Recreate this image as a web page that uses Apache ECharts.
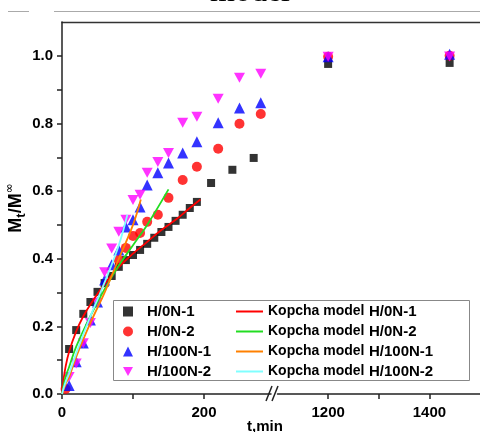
<!DOCTYPE html>
<html><head><meta charset="utf-8">
<script src="https://cdn.jsdelivr.net/npm/echarts@6/dist/echarts.min.js"></script>
<style>html,body{margin:0;padding:0;background:#fff}#c{width:480px;height:432px}</style>
</head><body><div id="c"></div>
<script>
// ---- data ----
var tBlack = [10,20,30,40,50,60,70,80,90,100,110,120,130,140,150,160,170,180,190,210,240,270];
var vBlack = [0.133,0.189,0.237,0.272,0.302,0.328,0.349,0.376,0.396,0.411,0.426,0.444,0.462,0.479,0.494,0.512,0.530,0.550,0.568,0.624,0.663,0.698];
var tRed = [5,80,90,100,110,120,135,150,170,190,220,250,280];
var vRed = [0.015,0.396,0.432,0.467,0.476,0.509,0.530,0.580,0.633,0.672,0.725,0.799,0.828];
var tBlue = [10,20,30,40,50,60,70,80,90,100,110,120,135,150,170,190,220,250,280];
var vBlue = [0.025,0.095,0.151,0.219,0.272,0.337,0.382,0.426,0.494,0.515,0.553,0.618,0.654,0.683,0.713,0.746,0.802,0.846,0.861];
var tMag = [10,20,30,40,50,60,70,80,90,100,110,120,135,150,170,190,220,250,280];
var vMag = [0.05,0.09,0.15,0.21,0.27,0.36,0.43,0.48,0.515,0.574,0.589,0.654,0.686,0.713,0.802,0.820,0.873,0.935,0.947];
var tLong = [1200,1440];
var vBlackLong = [0.976,0.979];
var vRedLong = [0.997,1.0];
var vBlueLong = [0.997,1.005];
var vMagLong = [0.997,0.998];
// Kopcha model curves
var tFit1 = [0,2,5,10,20,30,40,60,80,100,120,140,160,180,195];
var vFit1 = [0,0.04,0.08,0.125,0.185,0.23,0.265,0.325,0.375,0.415,0.45,0.485,0.515,0.55,0.575];
var tFit2 = [0,5,10,20,40,60,80,100,120,150];
var vFit2 = [0,0.05,0.08,0.14,0.23,0.31,0.38,0.44,0.50,0.605];
var tFit3 = [0,5,10,20,40,60,80,100,111];
var vFit3 = [0,0.03,0.05,0.11,0.21,0.30,0.40,0.50,0.575];
var tFit4 = [0,5,10,20,40,60,80,92];
var vFit4 = [0,0.035,0.06,0.12,0.23,0.33,0.44,0.53];
var namesPts = ['H/0N-1','H/0N-2','H/100N-1','H/100N-2'];
var namesFit = ['Kopcha model H/0N-1','Kopcha model H/0N-2','Kopcha model H/100N-1','Kopcha model H/100N-2'];
var xTicks1 = [0,100,200], xLabels1 = [0,200];
var xTicks2 = [1200,1300,1400], xLabels2 = [1200,1400];
var yTicks = [0,0.1,0.2,0.3,0.4,0.5,0.6,0.7,0.8,0.9,1.0];
var yLabels = [0,0.2,0.4,0.6,0.8,1.0];

function zip(a,b){return a.map(function(x,i){return [x,b[i]];});}
var downTri = 'path://M0,0 L10,0 L5,9 Z';
var FONT = 'Liberation Sans, Arial, sans-serif';
var ptStyles = [
  {symbol:'rect', symbolSize:8, color:'#000000'},
  {symbol:'circle', symbolSize:10, color:'#ff0000'},
  {symbol:'triangle', symbolSize:11, color:'#0000ff'},
  {symbol:downTri, symbolSize:[11,10], color:'#ff00ff'}
];
var ptData = [[tBlack,vBlack,vBlackLong],[tRed,vRed,vRedLong],[tBlue,vBlue,vBlueLong],[tMag,vMag,vMagLong]];
var fitColors = ['#ff0000','#22dd22','#ff8000','#80ffff'];
var fitData = [zip(tFit1,vFit1),zip(tFit2,vFit2),zip(tFit3,vFit3),zip(tFit4,vFit4)];

var series = [];
ptData.forEach(function(d,i){
  var s = ptStyles[i];
  series.push({type:'scatter', name:namesPts[i], xAxisIndex:0, yAxisIndex:0, symbol:s.symbol, symbolSize:s.symbolSize,
    itemStyle:{color:s.color}, data:zip(d[0],d[1]), z:2});
  series.push({type:'scatter', name:namesPts[i], xAxisIndex:1, yAxisIndex:1, symbol:s.symbol, symbolSize:s.symbolSize,
    itemStyle:{color:s.color}, data:zip(tLong,d[2]), z:2});
});
fitData.forEach(function(d,i){
  series.push({type:'line', name:namesFit[i], xAxisIndex:0, yAxisIndex:0, data:d, smooth:0.4, symbol:'none',
    lineStyle:{color:fitColors[i], width:1.8}, itemStyle:{color:fitColors[i]}, z:3});
});

var axisLineStyle = {lineStyle:{color:'#222', width:1.5}};
var labelStyle = {color:'#000', fontWeight:'bold', fontSize:15, fontFamily:FONT};
function plain(v){return String(v);}

var option = {
  animation:false,
  backgroundColor:'#ffffff',
  grid:[
    {left:62, top:22, width:209, bottom:38},
    {left:277.5, top:22, width:206, bottom:38}
  ],
  xAxis:[
    {type:'value', gridIndex:0, min:0, max:294.4, axisLine:axisLineStyle, splitLine:{show:false},
     axisTick:{show:true, length:5, inside:false, customValues:xTicks1, lineStyle:{color:'#222',width:1.5}},
     axisLabel:Object.assign({margin:11, customValues:xLabels1, formatter:plain}, labelStyle)},
    {type:'value', gridIndex:1, min:1100, max:1500, axisLine:axisLineStyle, splitLine:{show:false},
     axisTick:{show:true, length:5, inside:false, customValues:xTicks2, lineStyle:{color:'#222',width:1.5}},
     axisLabel:Object.assign({margin:11, customValues:xLabels2, formatter:plain}, labelStyle)}
  ],
  yAxis:[
    {type:'value', gridIndex:0, min:0, max:1.1, axisLine:Object.assign({show:true}, axisLineStyle), splitLine:{show:false},
     axisTick:{show:true, length:5, customValues:yTicks, lineStyle:{color:'#222',width:1.5}},
     axisLabel:Object.assign({margin:9, customValues:yLabels, formatter:function(v){return v.toFixed(1);}}, labelStyle),
     name:'{a|M}{t|t}{a|/M}{i|∞}', nameLocation:'middle', nameGap:32, nameRotate:90,
     nameTextStyle:{lineHeight:24, rich:{
        a:{fontSize:18,fontWeight:'bold',fontFamily:FONT,color:'#000',lineHeight:24,verticalAlign:'middle'},
        t:{fontSize:13,fontWeight:'bold',fontFamily:FONT,color:'#000',lineHeight:24,verticalAlign:'bottom'},
        i:{fontSize:12,fontWeight:'normal',fontFamily:'DejaVu Sans',color:'#000',lineHeight:24,verticalAlign:'top'}}}},
    {type:'value', gridIndex:1, min:0, max:1.1, show:false}
  ],
  legend:[
    {data:namesPts, orient:'vertical', left:123, top:304, padding:0, itemWidth:10, itemHeight:10, itemGap:5,
     textStyle:{color:'#000', fontWeight:'bold', fontSize:15, lineHeight:14, fontFamily:FONT, padding:[0,0,0,9]}},
    {data:namesFit, orient:'vertical', left:235, top:304, padding:0, itemWidth:27, itemHeight:10, itemGap:5,
     itemStyle:{opacity:0},
     formatter:function(n){return '{a|Kopcha model}{b|'+n.replace('Kopcha model ','')+'}';},
     textStyle:{color:'#000', fontWeight:'bold', fontSize:15, lineHeight:14, fontFamily:FONT,
       rich:{a:{width:101, fontWeight:'bold', fontSize:14, lineHeight:14, fontFamily:FONT, color:'#000'},
             b:{fontWeight:'bold', fontSize:15, lineHeight:14, fontFamily:FONT, color:'#000'}}}}
  ],
  graphic:[
    {type:'text', z:10, style:{text:'model', x:250, y:9, textAlign:'center', textVerticalAlign:'bottom', font:'32px "Liberation Serif", serif', fill:'#000'}},
    {type:'line', shape:{x1:8,y1:11.5,x2:29,y2:11.5}, style:{stroke:'#aaa', lineWidth:1}},
    {type:'line', shape:{x1:54,y1:11.5,x2:480,y2:11.5}, style:{stroke:'#aaa', lineWidth:1}},
    {type:'line', shape:{x1:61.5,y1:22.5,x2:480,y2:22.5}, style:{stroke:'#333', lineWidth:1.5}},
    {type:'rect', z:0, shape:{x:113.5,y:300.5,width:356,height:80}, style:{fill:'#fff', stroke:'#888', lineWidth:1}},
    {type:'line', shape:{x1:266,y1:401,x2:272,y2:386}, style:{stroke:'#222', lineWidth:1.5}},
    {type:'line', shape:{x1:272,y1:401,x2:278,y2:386}, style:{stroke:'#222', lineWidth:1.5}},
    {type:'text', style:{text:'t,min', x:265, y:427, textAlign:'center', textVerticalAlign:'middle', font:'bold 15px "Liberation Sans", Arial', fill:'#000'}}
  ],
  series:series
};
var chart = echarts.init(document.getElementById('c'), null, {renderer:'canvas'});
chart.setOption(option);
</script></body></html>
